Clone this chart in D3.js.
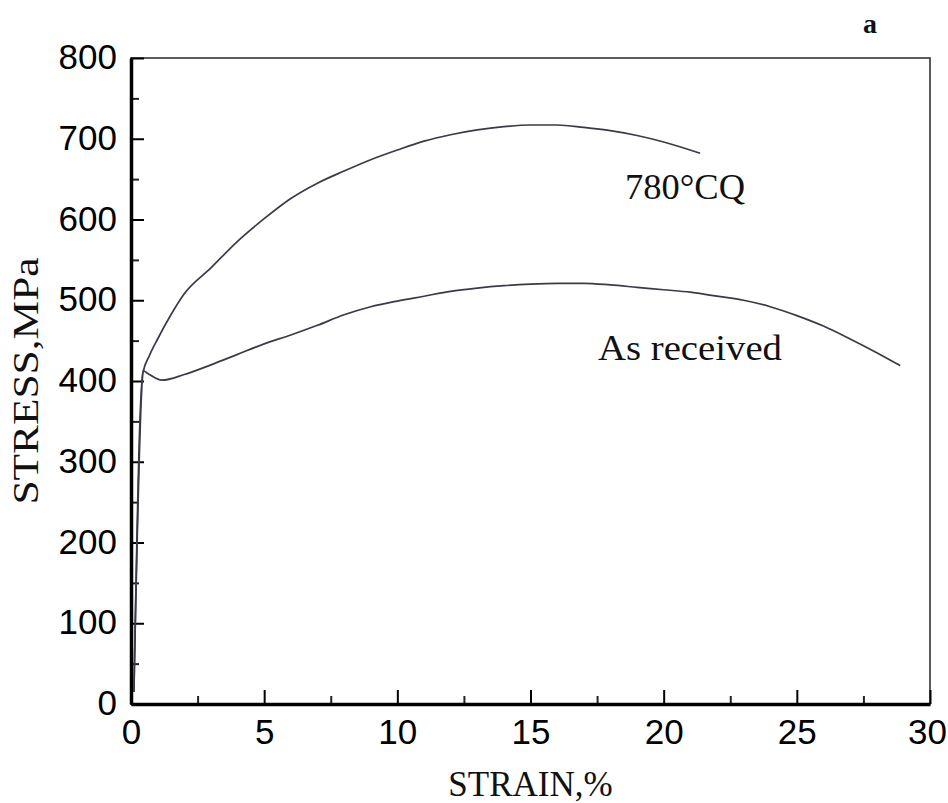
<!DOCTYPE html>
<html>
<head>
<meta charset="utf-8">
<script src="https://cdn.jsdelivr.net/npm/d3@7"></script>
<style>
  body { margin: 0; background: #fff; }
  .tick text { font-family: "Liberation Sans", Arial, sans-serif; font-size: 35px; fill: #000; }
  .lbl { font-family: "Liberation Serif", "Times New Roman", serif; fill: #111; }
</style>
</head>
<body>
<div id="chart"></div>
<script>
// Stress-strain curves, 780°C quenched vs as received

const xTicks = [0, 5, 10, 15, 20, 25, 30];
const yTicks = [0, 100, 200, 300, 400, 500, 600, 700, 800];

const strain780 = [0.11, 0.45, 0.7, 1.0, 1.5, 2.0, 3.0, 4.0, 5.0, 6.0, 7.0, 8.0, 9.0, 10.0, 11.0, 12.0, 13.0, 14.0, 15.0, 16.0, 17.0, 18.0, 19.0, 20.0, 21.37];
const stress780 = [15, 410, 432, 452, 482, 508, 540, 573, 601, 626, 645, 660, 674, 686, 697, 705, 711, 715, 717, 717, 714, 710, 704, 696, 682];

const strainAR = [0.11, 0.45, 0.6, 1.16, 2.0, 3.0, 4.0, 5.0, 6.0, 7.0, 8.0, 9.0, 10.0, 11.0, 12.0, 13.0, 14.0, 15.0, 16.0, 17.0, 18.0, 19.0, 20.0, 21.0, 22.0, 23.0, 24.0, 25.0, 26.0, 27.0, 28.0, 28.88];
const stressAR = [15, 413, 410, 401, 408, 420, 433, 446, 457, 469, 482, 492, 499, 505, 511, 515, 518, 520, 521, 521, 519, 516, 513, 510, 505, 500, 492, 481, 468, 452, 435, 419];

const W = 948, H = 803;
const m = {l: 131, r: 930, t: 58, b: 704};

const svg = d3.select("#chart").append("svg")
  .attr("width", W).attr("height", H);

const x = d3.scaleLinear().domain([0, 30]).range([m.l, m.r]);
const y = d3.scaleLinear().domain([0, 800]).range([m.b, m.t]);

// frame (top + right thin)
svg.append("rect")
  .attr("x", m.l).attr("y", m.t)
  .attr("width", m.r - m.l).attr("height", m.b - m.t)
  .attr("fill", "none").attr("stroke", "#333").attr("stroke-width", 1.6);

// minor ticks
const xMinor = d3.range(2.5, 30, 5);
const yMinor = d3.range(50, 800, 100);

svg.append("g").attr("transform", `translate(0 ${m.b})`)
  .call(d3.axisBottom(x).tickValues(xMinor).tickSize(-8).tickFormat(""))
  .call(g => g.select(".domain").remove())
  .selectAll("line").attr("stroke", "#222").attr("stroke-width", 2);

svg.append("g").attr("transform", `translate(${m.l} 0)`)
  .call(d3.axisLeft(y).tickValues(yMinor).tickSize(-8).tickFormat(""))
  .call(g => g.select(".domain").remove())
  .selectAll("line").attr("stroke", "#222").attr("stroke-width", 2);

// major axes
const xAxis = svg.append("g").attr("transform", `translate(0 ${m.b})`)
  .call(d3.axisBottom(x).tickValues(xTicks).tickSize(-14).tickSizeOuter(0).tickPadding(14).tickFormat(d3.format("d")));
const yAxis = svg.append("g").attr("transform", `translate(${m.l} 0)`)
  .call(d3.axisLeft(y).tickValues(yTicks).tickSize(-13).tickSizeOuter(0).tickPadding(14).tickFormat(d3.format("d")));

[xAxis, yAxis].forEach(g => {
  g.select(".domain").attr("stroke", "#000").attr("stroke-width", 3.5);
  g.selectAll(".tick line").attr("stroke", "#000").attr("stroke-width", 2);
});
yAxis.selectAll(".tick text").attr("dy", "0.3em");
xAxis.selectAll(".tick text").attr("dy", "0.75em");
// last x label sits on the right edge, nudge it in
xAxis.selectAll(".tick text").filter(d => d === 30).attr("dx", -3);

// curves
const line = d3.line().x(d => x(d[0])).y(d => y(d[1])).curve(d3.curveMonotoneX);
const c780 = d3.zip(strain780, stress780);
const cAR = d3.zip(strainAR, stressAR);

[c780, cAR].forEach(c => {
  svg.append("path").datum(c)
    .attr("d", line)
    .attr("fill", "none").attr("stroke", "#3a3a48").attr("stroke-width", 1.7);
});

// labels
svg.append("text").attr("class", "lbl")
  .attr("x", 625).attr("y", 199)
  .attr("font-size", 36).attr("textLength", 120).attr("lengthAdjust", "spacingAndGlyphs")
  .text("780°CQ");

svg.append("text").attr("class", "lbl")
  .attr("x", 598).attr("y", 360)
  .attr("font-size", 36).attr("textLength", 184).attr("lengthAdjust", "spacingAndGlyphs")
  .text("As received");

svg.append("text").attr("class", "lbl")
  .attr("x", (m.l + m.r) / 2).attr("y", 796)
  .attr("text-anchor", "middle")
  .attr("font-size", 35)
  .text("STRAIN,%");

svg.append("text").attr("class", "lbl")
  .attr("transform", `translate(38 ${(m.t + m.b) / 2}) rotate(-90)`)
  .attr("text-anchor", "middle")
  .attr("font-size", 36).attr("textLength", 247).attr("lengthAdjust", "spacingAndGlyphs")
  .text("STRESS,MPa");

svg.append("text").attr("class", "lbl")
  .attr("x", 870).attr("y", 33)
  .attr("text-anchor", "middle")
  .attr("font-size", 28).attr("font-weight", "bold")
  .text("a");
</script>
</body>
</html>
